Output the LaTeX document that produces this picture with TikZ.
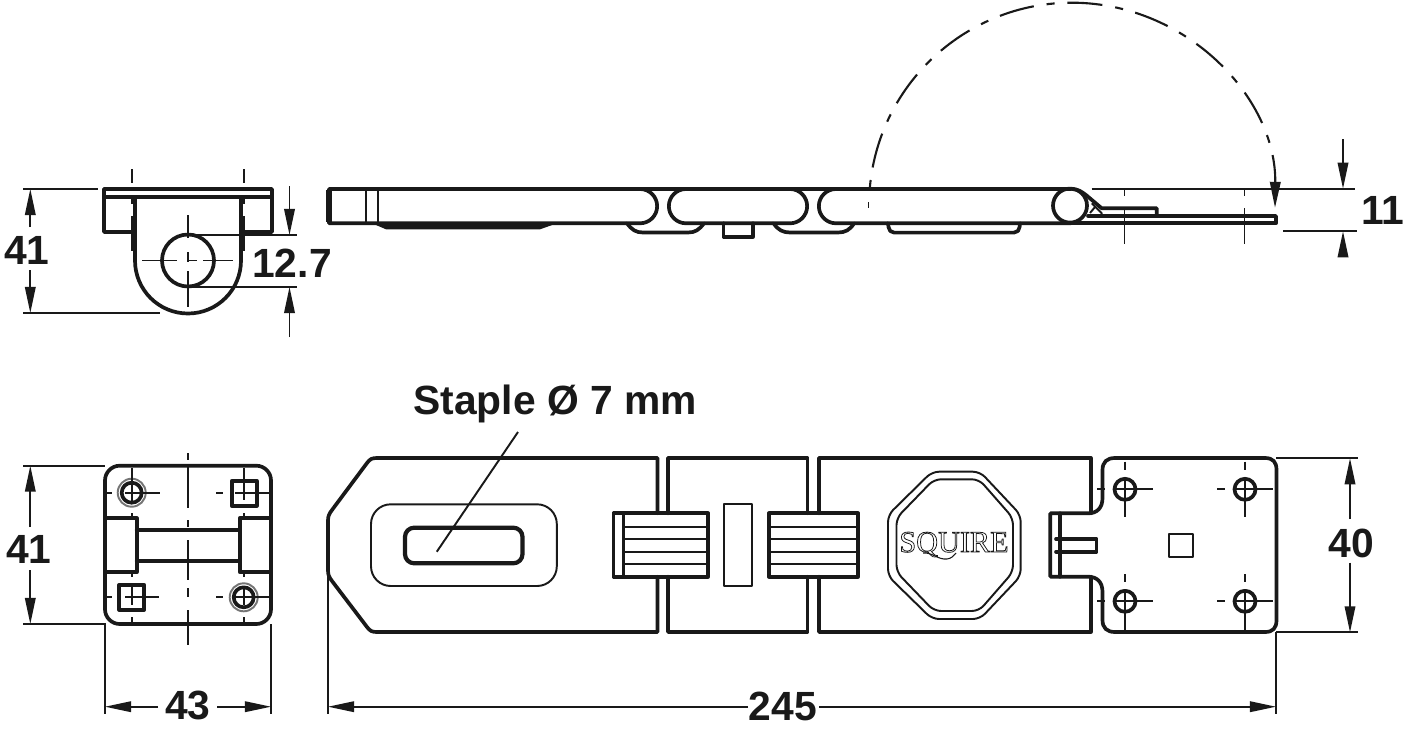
\documentclass[tikz,border=0pt]{standalone}
\usepackage{fontspec}
\setmainfont{Liberation Sans}
\newfontfamily\logofont{Liberation Serif}
\usetikzlibrary{arrows.meta}

\definecolor{inkcol}{gray}{0.1}

\tikzset{
  heavyline/.style={draw=inkcol, line width=1.05pt, line join=round, line cap=round},
  lightline/.style={draw=inkcol, line width=0.55pt, line join=round},
  centreline/.style={draw=inkcol, line width=0.48pt},
  dimline/.style={draw=inkcol, line width=0.48pt},
  dimarrow/.style={dimline, -{Triangle[length=7.4pt,width=3pt]}},
  dimlabel/.style={font=\bfseries\fontsize{11.6}{14}\selectfont, text=inkcol, inner sep=0pt}
}

\begin{document}
\begin{tikzpicture}[x=0.01cm,y=-0.01cm]

\useasboundingbox (0,0) rectangle (1418,730);

% end view, top left
{
\draw[heavyline] (104,189) rectangle (272,197);
\draw[heavyline] (104,197)--(104,232)--(135,232);
\draw[heavyline] (272,197)--(272,232)--(241,232);
\draw[heavyline] (135,197)--(135,260.5) arc[start angle=180,end angle=0,radius=53]--(241,197);
\draw[heavyline] (188,260.5) circle[radius=26];

%centre lines
\draw[centreline] (188,215)--++(0,23) (188,252)--++(0,10) (188,271)--++(0,36);
\draw[centreline] (142,260.5)--++(35,0) (187,260.5)--++(10,0) (203,260.5)--++(30,0);
\draw[centreline] (131.7,169)--++(0,14) (131.7,197)--++(0,7) (131.7,216)--++(0,35);
\draw[centreline] (243.7,169)--++(0,14) (243.7,197)--++(0,7) (243.7,216)--++(0,35);
}

%dimensions of end view
{
\node[dimlabel] (heightEnd) at (27,250) {41};
\draw[dimline] (23,189)--(98,189);
\draw[dimline] (23,313)--(160,313);
\draw[dimarrow] (30.3,227)--(30.3,189);
\draw[dimarrow] (30.3,270)--(30.3,313);

\node[dimlabel] (holeEnd) at (292,263) {12.7};
\draw[dimline] (188,235)--(297,235);
\draw[dimline] (188,287)--(297,287);
\draw[dimarrow] (289.5,186)--(289.5,235);
\draw[dimarrow] (289.5,337)--(289.5,287);
}

% side view, top
{
\draw[heavyline] (1071,189)--(329,189)--(329,223.3)--(640,223.3) arc[start angle=90,end angle=-90,radius=17.15];
\draw[line width=1.5pt, draw=inkcol] (329,190)--(329,222);
\draw[lightline] (366,189)--(366,223.3);
\draw[lightline] (378,189)--(378,223.3);
\fill[inkcol] (372,223.3)--(386,229.3)--(540,229.3)--(557,223.3)--cycle;

%links
\draw[heavyline] (686,189) arc[start angle=-90,end angle=-270,radius=17.15]--(790,223.3) arc[start angle=90,end angle=-90,radius=17.15];
\draw[heavyline] (836,189) arc[start angle=-90,end angle=-270,radius=17.15]--(1071,223.3);

%knuckles under the links
\draw[heavyline] (627,223.3)..controls (632,230) and (636,232.5)..(643,232.5)--(688,232.5)..controls (695,232.5) and (699,230)..(704,223.3);
\draw[heavyline] (773.6,223.3)..controls (778,230) and (783,232.5)..(790,232.5)--(838,232.5)..controls (845,232.5) and (850,230)..(854,223.3);
\draw[heavyline] (723.6,223.3)--(723.6,236.7)--(753,236.7)--(753,223.3);
\draw[heavyline] (888,223.3)--(888.5,227) arc[start angle=180,end angle=90,radius=5.6]--(1014,232.6) arc[start angle=90,end angle=0,radius=5.6]--(1020,223.3);

%hinge and staple plate
\draw[heavyline] (1070,205.6) circle[radius=17];
\draw[heavyline] (1072,189)..controls (1078,189) and (1082,192)..(1086,195)--(1101.7,208.3)--(1156.7,208.3)--(1156.7,216);
\draw[heavyline] (1088,216)--(1276,216)--(1276,223.3)--(1071,223.3);
\draw[lightline] (1091.7,203.3)--(1101.7,213.3)--(1101.7,216);
\draw[lightline] (1090,213)--(1095,207);

%fold arc
\draw[dimarrow, line width=0.6pt, dash pattern=on 2.3pt off 3.6pt on 10pt off 3.7pt] (869.8,188) arc[start angle=185,end angle=360.6,radius=203];
\draw[centreline] (868.5,202)--++(0,6);

%centre lines
\draw[centreline] (1124.6,189)--++(0,7) (1124.6,208)--++(0,36);
\draw[centreline] (1244.6,189)--++(0,7) (1244.6,208)--++(0,36);
}

%dimension of side view
{
\node[dimlabel] (thickSide) at (1383,210) {11};
\draw[dimline] (1091.7,188.7)--(1355,188.7);
\draw[dimline] (1283,231.3)--(1357,231.3);
\draw[dimarrow] (1343,139)--(1343,188.7);
\draw[dimarrow] (1343,252)--(1343,231.3);
}

% base plate, bottom left
{
\draw[heavyline, rounded corners=4.2pt] (105,465.7) rectangle (271,624);
\draw[heavyline] (105,518.3)--(136.7,518.3)--(136.7,572.3)--(105,572.3);
\draw[heavyline] (271,518.3)--(239.7,518.3)--(239.7,572.3)--(271,572.3);
\draw[heavyline] (136.7,530)--(239.7,530);
\draw[heavyline] (136.7,560.7)--(239.7,560.7);

%screw holes and square holes
\draw[heavyline] (131.7,492.7) circle[radius=10];
\draw[lightline, draw=inkcol!60] (131.7,492.7) circle[radius=14];
\draw[heavyline] (243.7,597.3) circle[radius=10];
\draw[lightline, draw=inkcol!60] (243.7,597.3) circle[radius=14];
\draw[heavyline] (231.7,480.7) rectangle (256.7,505.7);
\draw[heavyline] (119.2,584.8) rectangle (144.2,609.8);

%centre lines
\draw[centreline] (188,453)--++(0,7) (188,465)--++(0,43) (188,520)--++(0,7) (188,540)--++(0,40) (188,588)--++(0,9) (188,610)--++(0,35);
\draw[centreline] (131.7,468)--++(0,34) (243.7,468)--++(0,32);
\draw[centreline] (131.7,587)--++(0,18) (131.7,617)--++(0,6) (243.7,587)--++(0,18) (243.7,617)--++(0,6);
\draw[centreline] (131.7,513)--++(0,5) (243.7,513)--++(0,5) (131.7,572)--++(0,5) (243.7,572)--++(0,5);
\draw[centreline] (106,492.7)--(112,492.7) (125,492.7)--(160,492.7);
\draw[centreline] (216,492.7)--(223,492.7) (235,492.7)--(269,492.7);
\draw[centreline] (106,597.3)--(112,597.3) (125,597.3)--(159,597.3);
\draw[centreline] (216,597.3)--(223,597.3) (235,597.3)--(269,597.3);
}

%dimensions of base plate
{
\node[dimlabel] (heightBase) at (29,549) {41};
\draw[dimline] (23,465.7)--(105,465.7);
\draw[dimline] (23,624)--(105,624)--(105,714);
\draw[dimline] (271,624)--(271,714);
\draw[dimarrow] (30.3,527)--(30.3,465.7);
\draw[dimarrow] (30.3,570)--(30.3,624);

\node[dimlabel] (widthBase) at (188,705.5) {43};
\draw[dimarrow] (158,706.7)--(105,706.7);
\draw[dimarrow] (217,706.7)--(271,706.7);
}

% hasp front view, bottom
{
%leaf with staple slot
\draw[heavyline] (657.5,513.3)--(657.5,458)--(377,458)..controls (372,458) and (370,459)..(367,463)--(332,510)..controls (329,514) and (328,516)..(328,521)--(328,570)..controls (328,575) and (329,577)..(332,581)--(367,627)..controls (370,631) and (372,632)..(377,632)--(657.5,632)--(657.5,576.7);
\draw[lightline, rounded corners=5.6pt] (371,504.3) rectangle (556.8,586);
\draw[heavyline, line width=1.2pt, rounded corners=2.6pt] (405,527.7) rectangle (522.5,563.3);

%link in the middle
\draw[heavyline] (668,513.3)--(668,458)--(807.5,458)--(807.5,513.3);
\draw[heavyline] (668,576.7)--(668,632)--(807.5,632)--(807.5,576.7);
\draw[lightline] (724.3,504.3) rectangle (752,586);

%hinge knuckles
\draw[heavyline] (613.6,513.3) rectangle (708,576.7);
\draw[heavyline] (623.6,513.3)--(623.6,576.7);
\draw[lightline] (623.6,526.7)--(708,526.7) (623.6,539)--(708,539) (623.6,551.7)--(708,551.7) (623.6,564)--(708,564);
\draw[heavyline] (769,513.3) rectangle (858,576.7);
\draw[lightline] (769,526.7)--(858,526.7) (769,539)--(858,539) (769,551.7)--(858,551.7) (769,564)--(858,564);

%leaf with octagon
\draw[heavyline] (819,513.3)--(819,458)--(1090.7,458)--(1090.7,513.3);
\draw[heavyline] (819,576.7)--(819,632)--(1090.7,632)--(1090.7,576.7);
\draw[lightline, rounded corners=2pt] (932,471.7)--(980,471.7)--(1020.7,515)--(1020.7,576)--(980,619)--(932,619)--(888,576)--(888,515)--cycle;
\draw[lightline, rounded corners=2pt] (934,479.3)--(979,479.3)--(1013,518)--(1013,572)--(979,611)--(934,611)--(896.5,572)--(896.5,518)--cycle;
\node[inner sep=0pt, text=inkcol] (brand) at (954,544.5) {\logofont\fontsize{8.6}{10}\selectfont\special{pdf:code 1 Tr 0.22 w}SQUIRE\special{pdf:code 0 Tr}};
\draw[centreline, line width=0.3pt] (923,553)..controls (932,552) and (938,560)..(947,559)..controls (951,558.5) and (954,556)..(956,553);

%staple plate
\draw[heavyline] (1050.3,513.3)--(1088,513.3)..controls (1097,513.3) and (1102.5,508)..(1102.5,498)--(1102.5,470)..controls (1102.5,462) and (1107,458)..(1115,458)--(1265,458)..controls (1273,458) and (1276.5,462)..(1276.5,470)--(1276.5,620)..controls (1276.5,628) and (1273,632)..(1265,632)--(1115,632)..controls (1107,632) and (1102.5,628)..(1102.5,620)--(1102.5,592)..controls (1102.5,582) and (1097,576.7)..(1088,576.7)--(1050.3,576.7)--cycle;
\draw[heavyline] (1060,513.3)--(1060,576.7);
\draw[heavyline] (1056,539)--(1096.6,539)--(1096.6,551.7)--(1056,551.7);
\draw[lightline] (1169,533.7) rectangle (1193.4,557.3);
\draw[heavyline] (1125,489.3) circle[radius=10.5];
\draw[heavyline] (1245,489.3) circle[radius=10.5];
\draw[heavyline] (1125,601.3) circle[radius=10.5];
\draw[heavyline] (1245,601.3) circle[radius=10.5];

%centre lines
\draw[centreline] (1125,461.7)--++(0,8) (1125,478)--++(0,39) (1245,461.7)--++(0,8) (1245,478)--++(0,39);
\draw[centreline] (1125,574)--++(0,8) (1125,590.7)--++(0,39) (1245,574)--++(0,8) (1245,590.7)--++(0,39);
\draw[centreline] (1097,489.3)--(1105,489.3) (1114,489.3)--(1153,489.3) (1217,489.3)--(1225,489.3) (1234,489.3)--(1273,489.3);
\draw[centreline] (1097,601.3)--(1105,601.3) (1114,601.3)--(1153,601.3) (1217,601.3)--(1225,601.3) (1234,601.3)--(1273,601.3);
}

%dimensions of front view
{
\node[dimlabel, anchor=base] (stapleLabel) at (555,414) {Staple Ø 7 mm};
\draw[dimline, line width=0.55pt] (518,432)--(436.8,551.7);

\node[dimlabel] (widthPlate) at (1351,543) {40};
\draw[dimline] (1276,458.3)--(1358,458.3);
\draw[dimline] (1276,632.3)--(1358,632.3);
\draw[dimarrow] (1350,519)--(1350,458.3);
\draw[dimarrow] (1350,562.7)--(1350,632.3);

\node[dimlabel] (lengthAll) at (783,706) {245};
\draw[dimline] (328,572)--(328,714);
\draw[dimline] (1276,632.3)--(1276,714);
\draw[dimarrow] (748,706.7)--(328,706.7);
\draw[dimarrow] (819,706.7)--(1276,706.7);
}

\end{tikzpicture}
\end{document}
